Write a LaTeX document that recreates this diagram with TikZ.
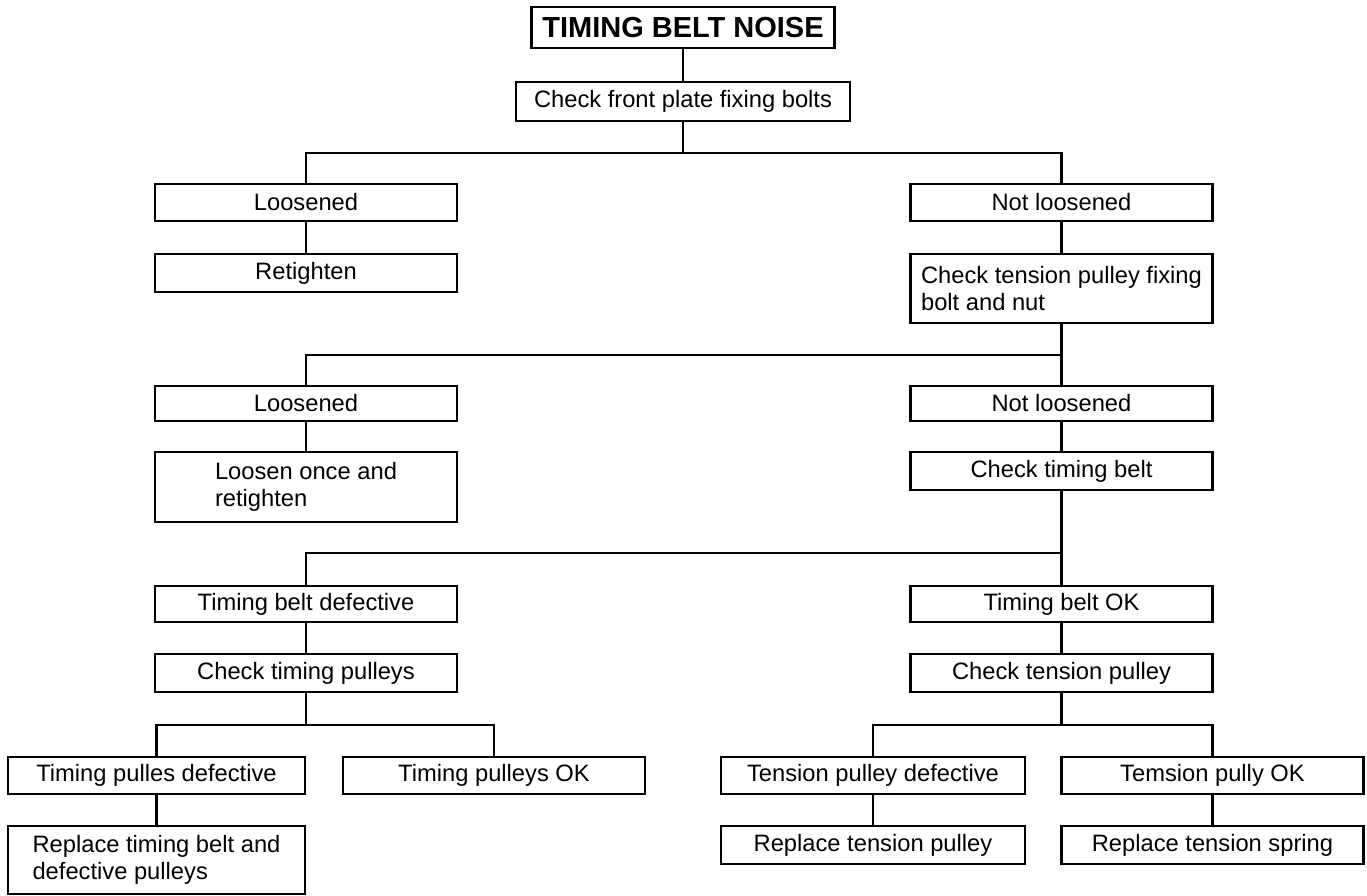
\documentclass[tikz,border=0pt]{standalone}
\usepackage{fontspec}
\setmainfont{Liberation Sans}

\begin{document}
\begin{tikzpicture}[x=0.02cm,y=-0.02cm,line width=1.2pt,
    box/.style={draw,minimum width=6.04cm,minimum height=0.74cm,inner sep=2pt,
      align=left,font=\fontsize{13.5}{15.5}\selectfont},
    tallbox/.style={box,minimum height=1.38cm}]
    \useasboundingbox (0,0) rectangle (1367,896);

    \node[box,minimum width=6.06cm,minimum height=0.82cm,
      font=\fontsize{16.5}{20}\selectfont\bfseries] (noise) at (683,27.5) {TIMING BELT NOISE};
    \node[box,minimum width=6.68cm,minimum height=0.78cm] (plate) at (683,101.5) {Check front plate fixing bolts};

    \node[box] (loose1) at (306,202.5) {Loosened};
    \node[box] (notloose1) at (1061.5,202.5) {Not loosened};
    \node[box,minimum height=0.76cm] (retighten) at (306,273) {Retighten};
    \node[tallbox] (ctension) at (1061.5,288.5) {Check tension pulley fixing\\ bolt and nut};

    \node[box,minimum height=0.7cm] (loose2) at (306,403.5) {Loosened};
    \node[box,minimum height=0.7cm] (notloose2) at (1061.5,403.5) {Not loosened};
    \node[tallbox,minimum height=1.4cm] (loosenonce) at (306,487) {Loosen once and\\ retighten};
    \node[box,minimum height=0.76cm] (cbelt) at (1061.5,471) {Check timing belt};

    \node[box,minimum height=0.72cm] (beltdef) at (306,604) {Timing belt defective};
    \node[box,minimum height=0.72cm] (beltok) at (1061.5,604) {Timing belt OK};
    \node[box,minimum height=0.76cm] (cpulleys) at (306,673) {Check timing pulleys};
    \node[box,minimum height=0.76cm] (ctpulley) at (1061.5,673) {Check tension pulley};

    \node[box,minimum width=5.94cm] (pulldef) at (156.5,775.5) {Timing pulles defective};
    \node[box] (pullok) at (494,775.5) {Timing pulleys OK};
    \node[box,minimum width=6.08cm] (tensdef) at (873,775.5) {Tension pulley defective};
    \node[box] (tensok) at (1212.5,775.5) {Temsion pully OK};

    \node[tallbox,minimum width=5.94cm,minimum height=1.36cm] (replbelt) at (156.5,860) {Replace timing belt and\\ defective pulleys};
    \node[box,minimum width=6.08cm,minimum height=0.76cm] (repltens) at (873,845) {Replace tension pulley};
    \node[box,minimum height=0.76cm] (replspring) at (1212.5,845) {Replace tension spring};

    \coordinate (j1) at (683,153);
    \coordinate (j2) at (1061.5,355);
    \coordinate (j3) at (1061.5,553);
    \coordinate (j4) at (306,725);
    \coordinate (j5) at (1061.5,725);

    \draw (noise) -- (plate);
    \draw (plate) -- (j1);
    \draw (loose1.north) |- (j1) -| (notloose1.north);
    \draw (loose1) -- (retighten);
    \draw (notloose1) -- (ctension);

    \draw (ctension) -- (notloose2);
    \draw (loose2.north) |- (j2);
    \draw (loose2) -- (loosenonce);
    \draw (notloose2) -- (cbelt);

    \draw (cbelt) -- (beltok);
    \draw (beltdef.north) |- (j3);
    \draw (beltdef) -- (cpulleys);
    \draw (beltok) -- (ctpulley);

    \draw (cpulleys) -- (j4);
    \draw (pulldef.north) |- (j4) -| (pullok.north);
    \draw (ctpulley) -- (j5);
    \draw (tensdef.north) |- (j5) -| (tensok.north);

    \draw (pulldef) -- (replbelt);
    \draw (tensdef) -- (repltens);
    \draw (tensok) -- (replspring);
\end{tikzpicture}
\end{document}
